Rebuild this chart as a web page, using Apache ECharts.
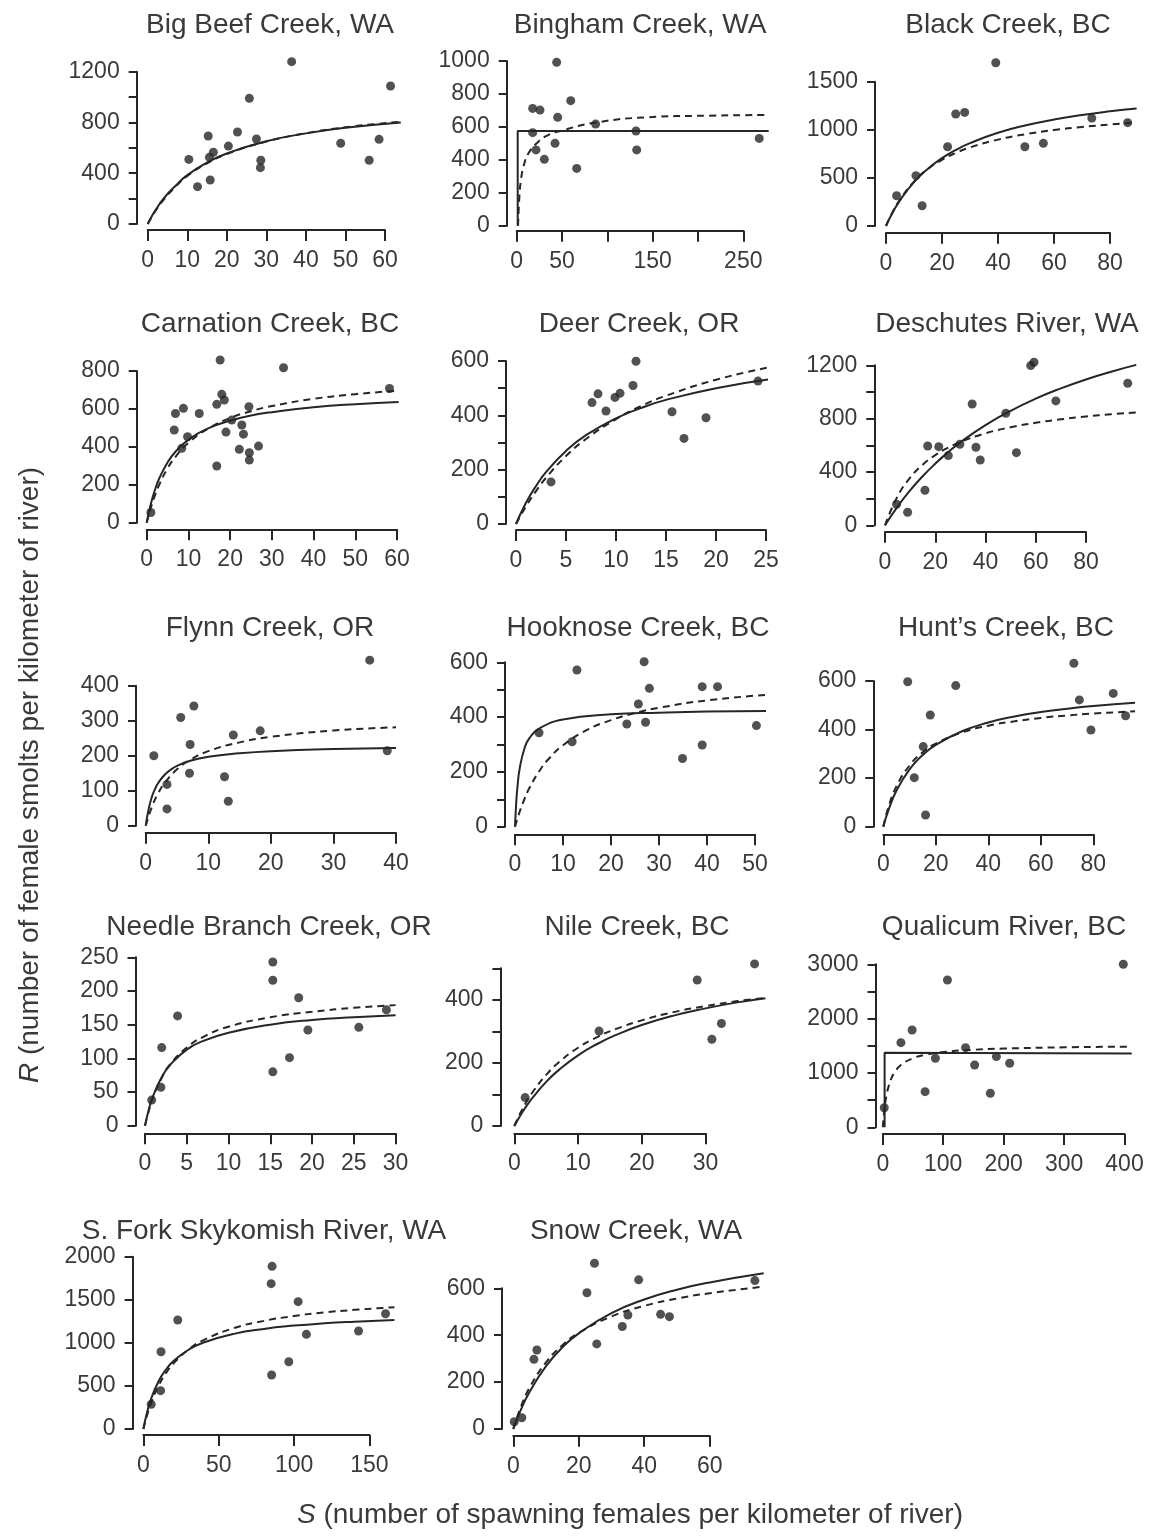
<!DOCTYPE html>
<html><head><meta charset="utf-8">
<script src="https://cdn.jsdelivr.net/npm/echarts@6/dist/echarts.min.js"></script>
<style>html,body{margin:0;padding:0;background:#fff}#c{width:1149px;height:1539px}</style>
</head><body><div id="c"></div>
<script>
// ---------------- DATA ----------------
const titles = ["Big Beef Creek, WA","Bingham Creek, WA","Black Creek, BC","Carnation Creek, BC","Deer Creek, OR","Deschutes River, WA","Flynn Creek, OR","Hooknose Creek, BC","Hunt\u2019s Creek, BC","Needle Branch Creek, OR","Nile Creek, BC","Qualicum River, BC","S. Fork Skykomish River, WA","Snow Creek, WA"];

const bigBeefPoints = [[10.4,509],[12.6,294],[15.3,693],[15.6,525],[15.8,347],[16.6,565],[20.4,614],[22.7,725],[25.7,990],[27.5,670],[28.6,502],[28.5,444],[36.4,1279],[48.8,636],[56.0,502],[58.5,667],[61.4,1087]];
const bigBeefSolid = [[0,0],[1,60],[2,110],[4,200],[7,300],[10,385],[15,484],[20,556],[30,652],[40,714],[50,758],[64,800]];
const bigBeefDashed = [[0,0],[1,55],[2,105],[4,190],[7,292],[10,378],[15,478],[20,552],[30,650],[40,715],[50,762],[64,806]];
const bigBeefXTicks = [0,10,20,30,40,50,60], bigBeefXLabels = [0,10,20,30,40,50,60];
const bigBeefYTicks = [0,200,400,600,800,1000,1200], bigBeefYLabels = [0,400,800,1200];

const binghamPoints = [[17.6,712],[25.7,702],[17.6,565],[21.3,460],[30.5,403],[44.1,992],[45.2,658],[42.3,500],[59.6,759],[66.2,348],[87.1,617],[131.6,575],[132.4,460],[267.6,530]];
const binghamSolid = [[1.1,0],[1.1,575],[278,575]];
const binghamDashed = [[1.5,0],[3,180],[5,290],[8,370],[13,440],[22,500],[33,545],[50,578],[87,626],[143,658],[210,668],[278,672]];
const binghamXTicks = [0,50,100,150,200,250], binghamXLabels = [0,50,150,250];
const binghamYTicks = [0,200,400,600,800,1000], binghamYLabels = [0,200,400,600,800,1000];

const blackPoints = [[3.8,315],[10.7,523],[12.9,211],[22.0,824],[24.9,1164],[28.1,1181],[39.2,1697],[49.6,824],[56.2,859],[73.5,1122],[86.3,1074]];
const blackSolid = [[0,0],[2,119],[5,267],[10,456],[15,596],[20,705],[25,791],[30,861],[40,969],[50,1047],[60,1107],[70,1154],[80,1192],[89.5,1222]];
const blackDashed = [[0,0],[2,125],[5,275],[10,462],[15,594],[20,688],[25,760],[30,817],[40,898],[50,955],[60,997],[70,1030],[80,1055],[89.5,1076]];
const blackXTicks = [0,20,40,60,80], blackXLabels = [0,20,40,60,80];
const blackYTicks = [0,500,1000,1500], blackYLabels = [0,500,1000,1500];

const carnationPoints = [[1.0,54],[6.6,489],[6.9,576],[8.8,603],[8.4,392],[9.8,453],[12.6,576],[17.6,858],[16.8,624],[18.0,677],[18.6,647],[16.8,299],[19.0,478],[20.4,541],[22.8,515],[23.2,467],[22.2,387],[24.5,612],[24.6,369],[24.6,330],[26.8,404],[32.8,817],[58.2,708]];
const carnationSolid = [[0,0],[1,100],[2,175],[3,233],[5,318],[7,377],[10,437],[15,500],[20,538],[25,565],[30,583],[40,609],[50,625],[60.4,636]];
const carnationDashed = [[0,0],[1,80],[2,145],[3,200],[5,286],[7,350],[10,421],[15,500],[20,552],[25,588],[30,615],[40,653],[50,678],[60.4,696]];
const carnationXTicks = [0,10,20,30,40,50,60], carnationXLabels = [0,10,20,30,40,50,60];
const carnationYTicks = [0,200,400,600,800], carnationYLabels = [0,200,400,600,800];

const deerPoints = [[3.5,155],[7.6,447],[8.2,479],[9.0,416],[9.9,466],[10.4,481],[11.7,510],[12.0,599],[15.6,413],[16.8,315],[19.0,391],[24.2,526]];
const deerSolid = [[0,0],[1,78],[2,140],[3,191],[5,269],[7,327],[10,389],[12.5,427],[15,457],[20,500],[25.2,532]];
const deerDashed = [[0,0],[1,65],[2,121],[3,170],[5,250],[7,313],[10,386],[12.5,434],[15,472],[20,531],[25.2,576]];
const deerXTicks = [0,5,10,15,20,25], deerXLabels = [0,5,10,15,20,25];
const deerYTicks = [0,100,200,300,400,500,600], deerYLabels = [0,200,400,600];

const deschutesPoints = [[4.6,158],[9.0,98],[15.9,263],[17.0,595],[21.4,590],[25.2,523],[29.8,608],[34.7,910],[36.2,585],[37.9,490],[48.1,840],[52.3,545],[58.0,1198],[59.3,1223],[68.0,933],[96.6,1065]];
const deschutesSolid = [[0,0],[5,140],[10,262],[15,368],[20,462],[25,547],[30,622],[40,751],[50,859],[60,950],[70,1027],[80,1094],[90,1152],[100,1203]];
const deschutesDashed = [[0,0],[5,217],[10,357],[15,455],[20,526],[25,581],[30,625],[40,690],[50,735],[60,769],[70,795],[80,816],[90,833],[100,847]];
const deschutesXTicks = [0,20,40,60,80], deschutesXLabels = [0,20,40,60,80];
const deschutesYTicks = [0,200,400,600,800,1000,1200], deschutesYLabels = [0,400,800,1200];

const flynnPoints = [[1.3,200],[3.4,118],[3.4,48],[5.6,309],[7.1,232],[7.0,150],[7.7,342],[12.6,140],[13.2,70],[14.0,259],[18.3,271],[35.8,473],[38.6,214]];
const flynnSolid = [[0,0],[0.5,50],[1,83],[1.5,105],[2,122],[3,145],[4,160],[5,171],[7,185],[10,197],[15,207],[20,213],[30,219],[40,222]];
const flynnDashed = [[0,0],[1,54],[2,93],[3,121],[5,161],[7,187],[10,213],[15,238],[20,254],[30,272],[40,281]];
const flynnXTicks = [0,10,20,30,40], flynnXLabels = [0,10,20,30,40];
const flynnYTicks = [0,100,200,300,400], flynnYLabels = [0,100,200,300,400];

const hooknosePoints = [[5.0,343],[11.9,310],[12.9,572],[23.3,375],[25.7,448],[26.9,602],[27.2,381],[28.0,505],[34.9,249],[39.0,298],[39.0,511],[42.2,511],[50.3,369]];
const hooknoseSolid = [[0,0],[0.25,86],[0.5,143],[1,215],[2,287],[3,323],[5,358],[10,391],[20,410],[30,416],[40,420],[52.3,422]];
const hooknoseDashed = [[0,0],[1,56],[2,102],[3,141],[5,201],[7,247],[10,297],[15,353],[20,389],[25,415],[30,434],[40,461],[52.3,481]];
const hooknoseXTicks = [0,10,20,30,40,50], hooknoseXLabels = [0,10,20,30,40,50];
const hooknoseYTicks = [0,100,200,300,400,500,600], hooknoseYLabels = [0,200,400,600];

const huntsPoints = [[9.3,597],[11.8,202],[15.2,330],[16.1,48],[17.9,460],[27.6,581],[72.6,673],[74.7,522],[79.1,398],[87.6,549],[92.3,457]];
const huntsSolid = [[0,0],[2,69],[5,148],[10,236],[15,295],[20,337],[30,393],[40,429],[50,454],[60,472],[70,486],[80,497],[95.9,510]];
const huntsDashed = [[0,0],[2,82],[5,166],[10,252],[15,306],[20,342],[30,388],[40,416],[50,434],[60,448],[70,458],[80,466],[95.9,475]];
const huntsXTicks = [0,20,40,60,80], huntsXLabels = [0,20,40,60,80];
const huntsYTicks = [0,200,400,600], huntsYLabels = [0,200,400,600];

const needlePoints = [[0.8,38],[2.0,116],[1.9,57],[3.9,163],[15.3,243],[15.3,216],[15.3,80],[17.3,101],[18.4,190],[19.5,142],[25.6,146],[28.9,172]];
const needleSolid = [[0,0],[0.5,26],[1,45],[2,72],[3,90],[5,113],[7,126],[10,138],[15,150],[20,157],[25,161],[30,164]];
const needleDashed = [[0,0],[0.5,24],[1,43],[2,71],[3,91],[5,116],[7,132],[10,147],[15,161],[20,169],[25,175],[30,179]];
const needleXTicks = [0,5,10,15,20,25,30], needleXLabels = [0,5,10,15,20,25,30];
const needleYTicks = [0,50,100,150,200,250], needleYLabels = [0,50,100,150,200,250];

const nilePoints = [[1.7,90],[13.3,301],[28.7,463],[31.0,275],[32.5,325],[37.7,514]];
const nileSolid = [[0,0],[1,35],[2,66],[3,93],[5,140],[7,178],[10,224],[13,260],[16,289],[20,320],[25,350],[30,373],[35,392],[39.4,405]];
const nileDashed = [[0,0],[1,43],[2,80],[3,111],[5,162],[7,202],[10,248],[13,282],[16,308],[20,335],[25,361],[30,380],[35,396],[39.4,406]];
const nileXTicks = [0,10,20,30], nileXLabels = [0,10,20,30];
const nileYTicks = [0,100,200,300,400,500], nileYLabels = [0,200,400];

const qualicumPoints = [[2.4,360],[30,1558],[48.5,1791],[70,656],[87,1270],[107,2712],[137,1466],[152,1147],[178,626],[188,1301],[210,1178],[398,3000]];
const qualicumSolid = [[3,0],[3,1372],[412,1360]];
const qualicumDashed = [[0,0],[3,357],[6,579],[10,769],[15,921],[20,1021],[30,1147],[50,1272],[70,1334],[100,1385],[150,1427],[200,1449],[300,1472],[412,1485]];
const qualicumXTicks = [0,100,200,300,400], qualicumXLabels = [0,100,200,300,400];
const qualicumYTicks = [0,500,1000,1500,2000,2500,3000], qualicumYLabels = [0,1000,2000,3000];

const skykomishPoints = [[5.2,286],[11.4,445],[11.7,897],[22.8,1265],[85.4,1888],[84.8,1687],[85.1,627],[96.5,781],[102.7,1478],[108.2,1099],[142.8,1137],[160.7,1338]];
const skykomishSolid = [[0,0],[2,162],[5,345],[10,552],[15,690],[20,789],[30,920],[40,1004],[60,1104],[80,1162],[100,1200],[120,1227],[140,1246],[166.6,1266]];
const skykomishDashed = [[0,0],[2,133],[5,296],[10,500],[15,649],[20,762],[30,923],[40,1032],[60,1171],[80,1255],[100,1311],[120,1352],[140,1383],[166.6,1413]];
const skykomishXTicks = [0,50,100,150], skykomishXLabels = [0,50,100,150];
const skykomishYTicks = [0,500,1000,1500,2000], skykomishYLabels = [0,500,1000,1500,2000];

const snowPoints = [[0.3,31],[2.6,48],[6.3,297],[7.2,337],[22.5,581],[24.8,707],[25.5,363],[33.3,437],[35.0,486],[38.3,636],[45.0,489],[47.7,479],[73.8,633]];
const snowSolid = [[0,0],[2,72],[5,159],[10,268],[15,348],[20,408],[30,494],[40,552],[50,594],[60,625],[76.5,664]];
const snowDashed = [[0,0],[2,83],[5,177],[10,284],[15,357],[20,410],[30,480],[40,525],[50,556],[60,579],[76.5,607]];
const snowXTicks = [0,20,40,60], snowXLabels = [0,20,40,60];
const snowYTicks = [0,200,400,600], snowYLabels = [0,200,400,600];

// ---------------- PANELS (data refs) ----------------
const panels = [
  {points:bigBeefPoints, solid:bigBeefSolid, dashed:bigBeefDashed, xt:bigBeefXTicks, xl:bigBeefXLabels, yt:bigBeefYTicks, yl:bigBeefYLabels},
  {points:binghamPoints, solid:binghamSolid, dashed:binghamDashed, xt:binghamXTicks, xl:binghamXLabels, yt:binghamYTicks, yl:binghamYLabels},
  {points:blackPoints, solid:blackSolid, dashed:blackDashed, xt:blackXTicks, xl:blackXLabels, yt:blackYTicks, yl:blackYLabels},
  {points:carnationPoints, solid:carnationSolid, dashed:carnationDashed, xt:carnationXTicks, xl:carnationXLabels, yt:carnationYTicks, yl:carnationYLabels},
  {points:deerPoints, solid:deerSolid, dashed:deerDashed, xt:deerXTicks, xl:deerXLabels, yt:deerYTicks, yl:deerYLabels},
  {points:deschutesPoints, solid:deschutesSolid, dashed:deschutesDashed, xt:deschutesXTicks, xl:deschutesXLabels, yt:deschutesYTicks, yl:deschutesYLabels},
  {points:flynnPoints, solid:flynnSolid, dashed:flynnDashed, xt:flynnXTicks, xl:flynnXLabels, yt:flynnYTicks, yl:flynnYLabels},
  {points:hooknosePoints, solid:hooknoseSolid, dashed:hooknoseDashed, xt:hooknoseXTicks, xl:hooknoseXLabels, yt:hooknoseYTicks, yl:hooknoseYLabels},
  {points:huntsPoints, solid:huntsSolid, dashed:huntsDashed, xt:huntsXTicks, xl:huntsXLabels, yt:huntsYTicks, yl:huntsYLabels},
  {points:needlePoints, solid:needleSolid, dashed:needleDashed, xt:needleXTicks, xl:needleXLabels, yt:needleYTicks, yl:needleYLabels},
  {points:nilePoints, solid:nileSolid, dashed:nileDashed, xt:nileXTicks, xl:nileXLabels, yt:nileYTicks, yl:nileYLabels},
  {points:qualicumPoints, solid:qualicumSolid, dashed:qualicumDashed, xt:qualicumXTicks, xl:qualicumXLabels, yt:qualicumYTicks, yl:qualicumYLabels},
  {points:skykomishPoints, solid:skykomishSolid, dashed:skykomishDashed, xt:skykomishXTicks, xl:skykomishXLabels, yt:skykomishYTicks, yl:skykomishYLabels},
  {points:snowPoints, solid:snowSolid, dashed:snowDashed, xt:snowXTicks, xl:snowXLabels, yt:snowYTicks, yl:snowYLabels}
];

// ---------------- LAYOUT (pixels) ----------------
// yAxisX, y0 (px of y=0), yTopPx (px of top tick), xAxisY, x0 (px of x=0), xLastPx (px of last tick), xMax, yMax, title x, title y, smooth solid
const layouts = [
  [136.7,224,71.7,230,147.7,385,64,1300,270,25,true],
  [506.7,225.7,61,230.7,516.7,743.3,278,1010,640,25,false],
  [875,226,81.7,232.7,886,1110,90,1720,1008,25,true],
  [136.7,522.7,371,529.3,146.7,397,61,870,270,324,true],
  [506,524,361,530,516,766,25.5,610,639,324,true],
  [874.3,525.3,365.3,531.7,885,1086,100.5,1230,1007,324,true],
  [136,825.7,685.7,832.7,145.7,396,40.5,480,270,628,true],
  [505,826.7,662.3,834.3,515,755,52.5,610,638,628,true],
  [873.3,826.7,681,834.3,883.3,1093.3,96,680,1006,628,true],
  [135.5,1125.7,957.3,1133.3,145,395.6,30.5,250,269,927,true],
  [500.4,1126,968.3,1133.3,514.3,705.5,39.5,520,637,927,true],
  [875.5,1127.3,964.3,1134,882.8,1124.5,413,3010,1004,927,false],
  [132.6,1429,1256.7,1435,143.4,369.4,167,1900,264,1231,true],
  [502,1429,1288.3,1435.7,513.3,709.7,77,710,636,1231,true]
];

const TEXT = '#3a3a3a', INK = '#262626';
const FONT = '"Liberation Sans", Arial, Helvetica, sans-serif';
const LINE = {color: INK, width: 2};

const grids = [], xAxes = [], yAxes = [], series = [], graphics = [];
function fmt(labels){ return function(v){ return labels.indexOf(v) >= 0 ? String(v) : ''; }; }

panels.forEach(function(p, i){
  const L = layouts[i];
  const yAxisX=L[0], y0=L[1], yTopPx=L[2], xAxisY=L[3], x0=L[4], xLastPx=L[5], xMax=L[6], yMax=L[7];
  const xLast = p.xt[p.xt.length-1], yTop = p.yt[p.yt.length-1];
  const kx = (xLastPx - x0) / (xLast - p.xt[0]);
  const ky = (y0 - yTopPx) / (yTop - p.yt[0]);
  const gi = grids.length;
  // data grid
  grids.push({left: x0, top: y0 - ky*yMax, width: kx*xMax, height: ky*yMax});
  xAxes.push({gridIndex: gi, type:'value', min:0, max:xMax, show:false});
  yAxes.push({gridIndex: gi, type:'value', min:0, max:yMax, show:false});
  // x-axis grid
  grids.push({left: x0, top: xAxisY - 20, width: xLastPx - x0, height: 20});
  xAxes.push({gridIndex: gi+1, type:'value', position:'bottom', min:p.xt[0], max:xLast, interval:p.xt[1]-p.xt[0],
    axisLine:{show:true, onZero:false, lineStyle:LINE}, axisTick:{show:true, length:11, lineStyle:LINE},
    splitLine:{show:false}, axisLabel:{show:true, margin:19, fontSize:23, fontFamily:FONT, color:TEXT, formatter:fmt(p.xl), showMinLabel:true, showMaxLabel:true}});
  yAxes.push({gridIndex: gi+1, type:'value', show:false, min:0, max:1});
  // y-axis grid
  grids.push({left: yAxisX, top: yTopPx, width: 4, height: y0 - yTopPx});
  xAxes.push({gridIndex: gi+2, type:'value', show:false, min:0, max:1});
  yAxes.push({gridIndex: gi+2, type:'value', position:'left', min:p.yt[0], max:yTop, interval:p.yt[1]-p.yt[0],
    axisLine:{show:true, onZero:false, lineStyle:LINE}, axisTick:{show:true, length:8, lineStyle:LINE},
    splitLine:{show:false}, axisLabel:{show:true, margin:17, fontSize:23, fontFamily:FONT, color:TEXT, formatter:fmt(p.yl), showMinLabel:true, showMaxLabel:true}});

  series.push({type:'line', xAxisIndex:gi, yAxisIndex:gi, data:p.solid, symbol:'none', showSymbol:false,
    smooth: L[10] ? 0.5 : false, clip:false, lineStyle:{color:INK, width:2}, z:2, silent:true});
  series.push({type:'line', xAxisIndex:gi, yAxisIndex:gi, data:p.dashed, symbol:'none', showSymbol:false,
    smooth:0.5, clip:false, lineStyle:{color:INK, width:2, type:[7,5]}, z:2, silent:true});
  series.push({type:'scatter', xAxisIndex:gi, yAxisIndex:gi, data:p.points, symbol:'circle', symbolSize:9,
    itemStyle:{color:'#262626'}, clip:false, z:3, silent:true});

  graphics.push({type:'text', x:L[8], y:L[9], style:{text:titles[i], fill:TEXT, fontSize:28, fontFamily:FONT, textAlign:'center', textVerticalAlign:'middle'}});
});

graphics.push({type:'text', x:30, y:775, rotation:Math.PI/2,
  style:{text:'{i|R} (number of female smolts per kilometer of river)', fill:TEXT, fontSize:28, fontFamily:FONT,
    textAlign:'center', textVerticalAlign:'middle', rich:{i:{fontStyle:'italic', fontSize:28, fontFamily:FONT, fill:TEXT}}}});
graphics.push({type:'text', x:630, y:1515,
  style:{text:'{i|S} (number of spawning females per kilometer of river)', fill:TEXT, fontSize:28, fontFamily:FONT,
    textAlign:'center', textVerticalAlign:'middle', rich:{i:{fontStyle:'italic', fontSize:28, fontFamily:FONT, fill:TEXT}}}});

const chart = echarts.init(document.getElementById('c'), null, {renderer:'canvas'});
chart.setOption({animation:false, backgroundColor:'#fff', grid:grids, xAxis:xAxes, yAxis:yAxes, series:series, graphic:graphics});
</script></body></html>
